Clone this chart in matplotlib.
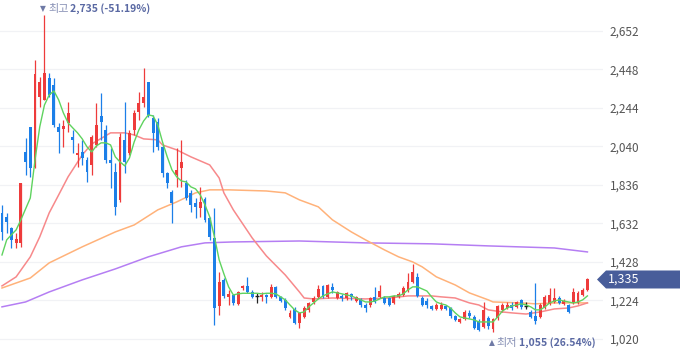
import matplotlib
matplotlib.use('Agg')
import matplotlib.pyplot as plt
import matplotlib.transforms as mtransforms
from matplotlib.patches import Polygon
import numpy as np

# ---------------- data ----------------
opens = [1688, 1667, 1608, 1529, 1529, 2011, 2144, 1932, 2303, 2287,
         2403, 2366, 2144, 2133, 2165, 2091, 1995, 2011, 1969, 1942,
         2048, 2202, 2128, 1969, 1905, 1757, 2075, 2006, 2128, 2223,
         2271, 2382, 2191, 2170, 2038, 1900, 1799, 1889, 1926, 1847,
         1794, 1741, 1714, 1762, 1661, 1555, 1195, 1333, 1243, 1253,
         1206, 1290, 1301, 1269, 1245, 1243, 1253, 1243, 1296, 1243,
         1227, 1137, 1179, 1105, 1137, 1174, 1216, 1243, 1301, 1243,
         1296, 1237, 1248, 1237, 1259, 1221, 1227, 1200, 1200, 1243,
         1243, 1237, 1237, 1211, 1243, 1253, 1280, 1322, 1349, 1237,
         1221, 1195, 1179, 1179, 1195, 1184, 1142, 1110, 1126, 1158,
         1137, 1115, 1084, 1131, 1073, 1131, 1174, 1184, 1200, 1190,
         1227, 1195, 1163, 1142, 1137, 1184, 1206, 1216, 1237, 1206,
         1200, 1211, 1211, 1253, 1280]
highs = [1730, 1688, 1614, 1582, 1847, 2085, 2144, 2499, 2409, 2735,
         2430, 2403, 2165, 2181, 2276, 2128, 2059, 2075, 1985, 2101,
         2271, 2324, 2154, 2032, 1953, 2112, 2276, 2128, 2234, 2329,
         2457, 2382, 2207, 2191, 2048, 1905, 1810, 2032, 2075, 1863,
         1810, 1767, 1826, 1773, 1667, 1714, 1375, 1343, 1280, 1259,
         1274, 1306, 1349, 1280, 1264, 1269, 1259, 1312, 1301, 1248,
         1237, 1174, 1190, 1163, 1195, 1216, 1248, 1306, 1306, 1312,
         1317, 1274, 1259, 1269, 1264, 1248, 1237, 1211, 1243, 1296,
         1306, 1248, 1243, 1253, 1269, 1301, 1370, 1418, 1370, 1248,
         1237, 1200, 1211, 1216, 1200, 1190, 1147, 1131, 1174, 1174,
         1147, 1126, 1216, 1142, 1131, 1200, 1211, 1216, 1216, 1221,
         1232, 1216, 1174, 1317, 1211, 1253, 1290, 1290, 1248, 1232,
         1206, 1290, 1274, 1290, 1343]
lows = [1545, 1582, 1502, 1502, 1508, 1889, 1879, 1926, 2250, 2287,
        2303, 2144, 2006, 2038, 2117, 2006, 1932, 1942, 1852, 1889,
        2038, 2075, 1953, 1820, 1677, 1746, 1900, 1995, 2101, 2181,
        2250, 2197, 2011, 2022, 1879, 1820, 1635, 1826, 1826, 1757,
        1693, 1661, 1667, 1640, 1545, 1094, 1147, 1237, 1200, 1200,
        1200, 1280, 1264, 1237, 1211, 1221, 1211, 1237, 1237, 1216,
        1174, 1131, 1100, 1078, 1131, 1163, 1206, 1237, 1237, 1237,
        1264, 1232, 1221, 1227, 1227, 1216, 1190, 1163, 1190, 1211,
        1237, 1206, 1195, 1206, 1237, 1248, 1269, 1317, 1243, 1195,
        1184, 1174, 1174, 1174, 1174, 1131, 1115, 1105, 1121, 1131,
        1073, 1063, 1078, 1073, 1055, 1121, 1163, 1179, 1174, 1184,
        1179, 1179, 1131, 1100, 1131, 1179, 1200, 1211, 1206, 1200,
        1158, 1206, 1206, 1248, 1274]
closes = [1587, 1640, 1545, 1550, 1847, 1958, 1926, 2425, 2382, 2430,
          2313, 2154, 2117, 2149, 2218, 2075, 2006, 1979, 1905, 2091,
          2154, 2170, 1969, 1953, 1720, 2091, 1958, 2112, 2218, 2271,
          2303, 2207, 2112, 2038, 1900, 1847, 1741, 1916, 1958, 1767,
          1730, 1720, 1746, 1651, 1561, 1184, 1322, 1248, 1259, 1211,
          1269, 1301, 1269, 1243, 1245, 1253, 1243, 1296, 1243, 1221,
          1184, 1158, 1105, 1158, 1184, 1211, 1237, 1285, 1243, 1306,
          1280, 1269, 1237, 1264, 1243, 1243, 1200, 1184, 1237, 1216,
          1274, 1211, 1200, 1248, 1259, 1290, 1322, 1375, 1248, 1200,
          1200, 1179, 1200, 1200, 1179, 1142, 1121, 1126, 1163, 1142,
          1078, 1068, 1174, 1089, 1126, 1195, 1200, 1200, 1184, 1216,
          1190, 1195, 1137, 1115, 1200, 1243, 1253, 1237, 1211, 1221,
          1163, 1269, 1264, 1280, 1335]

ma5 = [1465, 1545, 1572, 1598, 1651, 1709, 1767, 1969, 2144, 2260,
       2313, 2334, 2287, 2218, 2165, 2138, 2112, 2080, 2038, 2011,
       2043, 2059, 2059, 2048, 1985, 1958, 1937, 1979, 2064, 2128,
       2175, 2207, 2202, 2154, 2064, 1985, 1916, 1879, 1857, 1852,
       1826, 1815, 1783, 1730, 1667, 1561, 1439, 1365, 1296, 1253,
       1259, 1262, 1262, 1262, 1262, 1259, 1262, 1262, 1259, 1243,
       1227, 1200, 1174, 1158, 1163, 1190, 1211, 1232, 1248, 1259,
       1269, 1264, 1259, 1253, 1248, 1237, 1227, 1216, 1216, 1221,
       1232, 1243, 1243, 1248, 1248, 1259, 1280, 1296, 1296, 1285,
       1274, 1243, 1216, 1206, 1200, 1184, 1158, 1137, 1131, 1126,
       1121, 1110, 1110, 1110, 1110, 1137, 1168, 1184, 1195, 1200,
       1206, 1200, 1190, 1174, 1174, 1190, 1211, 1221, 1227, 1221,
       1216, 1211, 1216, 1227, 1248]

ma20_idx = [0, 3, 6, 8, 10, 12, 14, 17, 19, 23, 26, 28, 30, 33, 34, 37, 40,
            44, 46, 47, 49, 53, 56, 60, 63, 64, 66, 70, 77, 82, 86, 91, 93,
            96, 99, 101, 103, 106, 108, 111, 114, 117, 120, 122, 124]
ma20_val = [1301, 1349, 1455, 1561, 1688, 1783, 1879, 1995, 2053, 2112,
            2112, 2101, 2080, 2075, 2048, 2022, 1985, 1942, 1873, 1794,
            1704, 1555, 1460, 1359, 1269, 1237, 1232, 1237, 1232, 1237,
            1248, 1248, 1243, 1237, 1211, 1200, 1174, 1163, 1158, 1152,
            1163, 1179, 1184, 1195, 1211]

ma60_idx = [0, 6, 10, 17, 24, 28, 33, 37, 41, 44, 48, 56, 60, 63, 67, 70,
            74, 77, 81, 84, 87, 89, 92, 96, 99, 103, 104, 110, 113, 117,
            120, 124]
ma60_val = [1290, 1343, 1423, 1508, 1587, 1624, 1704, 1746, 1794, 1810,
            1810, 1804, 1794, 1757, 1720, 1651, 1587, 1545, 1492, 1455,
            1428, 1402, 1349, 1306, 1264, 1227, 1216, 1211, 1206, 1211,
            1211, 1211]

ma120_idx = [0, 5, 10, 17, 24, 31, 38, 43, 49, 63, 77, 91, 103, 117, 124]
ma120_val = [1190, 1216, 1269, 1333, 1391, 1455, 1508, 1529, 1534, 1539,
             1529, 1524, 1513, 1502, 1481]

ytick_vals = [1020, 1224, 1428, 1632, 1836, 2040, 2244, 2448, 2652]

high_idx, high_price = 9, 2735
high_prefix, high_text = '최고', '2,735 (-51.19%)'
low_idx, low_price = 104, 1055
low_prefix, low_text = '최저', '1,055 (26.54%)'
last_price = 1335
last_text = '1,335'

# ---------------- styling ----------------
FONT = ['Noto Sans CJK KR', 'DejaVu Sans']
plt.rcParams['font.family'] = FONT
UP = '#ee3b3b'
DOWN = '#1c7fe8'
DOJI = '#222222'

fig = plt.figure(figsize=(6.8, 3.58), dpi=100)
fig.patch.set_facecolor('white')
ax = fig.add_axes([0, 0, 603 / 680, 1])
ax.set_xlim(-0.42, 127.3)
ax.set_ylim(919, 2816)

n = len(opens)
x = np.arange(n)
o = np.array(opens, float)
h = np.array(highs, float)
l = np.array(lows, float)
c = np.array(closes, float)

cols = np.where(c > o, UP, np.where(c < o, DOWN, DOJI))

# wicks
ax.vlines(x, l, h, colors=cols, linewidth=0.9, zorder=3)
# bodies
up_or_down = c != o
ax.bar(x[up_or_down], np.abs(c - o)[up_or_down],
       bottom=np.minimum(o, c)[up_or_down], width=0.62,
       color=cols[up_or_down], linewidth=0, zorder=4)
doji = ~up_or_down
ax.hlines(o[doji], x[doji] - 0.35, x[doji] + 0.35, colors=DOJI,
          linewidth=1.0, zorder=4)

# moving averages
ax.plot(ma120_idx, ma120_val, color='#b57ef3', lw=1.1, zorder=2)
ax.plot(ma60_idx, ma60_val, color='#ffb27a', lw=1.1, zorder=2)
ax.plot(ma20_idx, ma20_val, color='#f7898b', lw=1.1, zorder=2)
ax.plot(x, ma5, color='#5fd35f', lw=1.0, zorder=5)

# axes styling
for s in ax.spines.values():
    s.set_visible(False)
ax.set_xticks([])
ax.yaxis.tick_right()
ax.set_yticks(ytick_vals)
ax.set_yticklabels([f'{v:,}' for v in ytick_vals])
ax.tick_params(axis='y', length=0, pad=5, labelsize=8.5, labelcolor='#555555')
ax.grid(axis='y', color='#f1f2f5', linewidth=0.9)
ax.set_axisbelow(True)
for t in ax.get_yticklabels():
    t.set_fontfamily(FONT)

# high / low annotations
blend = mtransforms.blended_transform_factory(ax.transData, fig.transFigure)


def marker_label(idx, yfrac, mark, prefix, text):
    m = ax.text(idx - 0.9, yfrac, mark, transform=blend, ha='left',
                va='center', fontsize=5.5, color='#6f7aa6',
                family=['DejaVu Sans'], clip_on=False)
    p = ax.annotate(prefix, xy=(1, 0.5), xycoords=m, xytext=(1.5, 0),
                    textcoords='offset points', ha='left', va='center',
                    fontsize=8, color='#8891b6', family=FONT)
    ax.annotate(text, xy=(1, 0.5), xycoords=p, xytext=(1, 0),
                textcoords='offset points', ha='left', va='center',
                fontsize=7.5, fontweight='bold', color='#5a69a3',
                family=FONT)


marker_label(high_idx, 1 - 9 / 358, '▼', high_prefix, high_text)
marker_label(low_idx, 1 - 343 / 358, '▲', low_prefix, low_text)

# current price badge
fig.canvas.draw()
yc = ax.transData.transform((0, last_price))[1]
W = fig.bbox.width
hh = 9
pts = [(597, yc), (606, yc + hh), (W, yc + hh), (W, yc - hh), (606, yc - hh)]
badge = Polygon(pts, closed=True, facecolor='#485d9a', edgecolor='none',
                transform=mtransforms.IdentityTransform(), zorder=10)
fig.add_artist(badge)
fig.text(608 / W, yc / fig.bbox.height, last_text, ha='left', va='center',
         color='white', fontsize=9, family=FONT, zorder=11)

fig.savefig('out.png', dpi=100, facecolor='white')
